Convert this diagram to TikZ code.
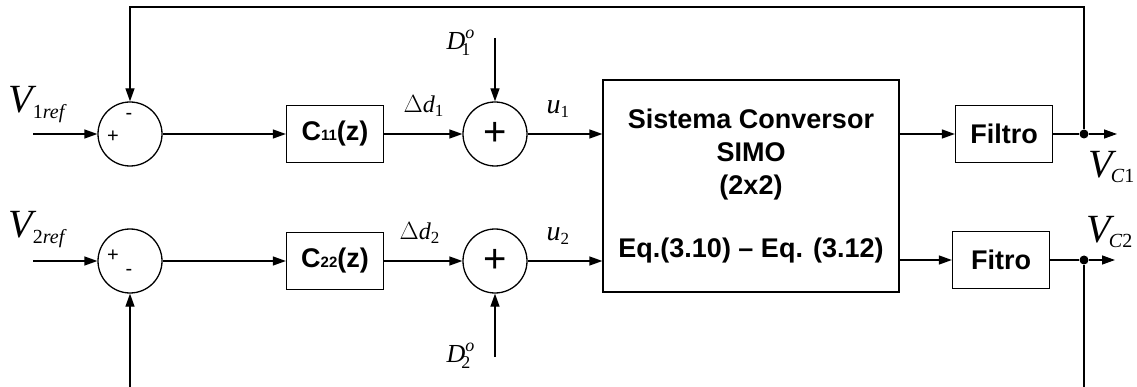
\documentclass[tikz,border=0pt]{standalone}
\usepackage{fontspec}
\setmainfont{Liberation Serif}
\setsansfont{Liberation Sans}
\usetikzlibrary{arrows.meta,positioning,calc}

\newcommand{\fs}[1]{\fontsize{#1}{#1}\selectfont}

\begin{document}
\begin{tikzpicture}[
    x=1pt, y=-1pt,
    line width=1.3pt,
    sum/.style={draw, circle, minimum size=64pt, inner sep=0pt},
    block/.style={draw, rectangle, minimum width=97pt, minimum height=57pt,
                  font=\sffamily\bfseries\fs{27}},
    lbl/.style={inner sep=0pt, font=\fs{26}},
    sgn/.style={inner sep=0pt, font=\sffamily\fs{20}},
    dot/.style={circle, fill, inner sep=0pt, minimum size=9pt},
    arrow/.style={-{Triangle[length=13pt,width=9pt]}}
  ]
    \clip (0,0) rectangle (1137,387);

    % summing junctions (error)
    \node[sum] (sumA) at (130,134) {};
    \node[sum] (sumB) at (130,261) {};
    \node[sgn] at (113,137) {+};
    \node[sgn] at (129,116) {-};
    \node[sgn] at (113,256) {+};
    \node[sgn] at (129,272) {-};

    % controllers
    \node[block] (ctrlA) at (335,134) {C{\fs{15}11}(z)};
    \node[block] (ctrlB) at (335,261) {C{\fs{15}22}(z)};

    % disturbance junctions
    \node[sum, font=\sffamily\fs{40}] (addA) at (495,134) {+};
    \node[sum, font=\sffamily\fs{40}] (addB) at (495,261) {+};

    % converter
    \node[draw, rectangle, minimum width=296pt, minimum height=212pt, align=center,
          font=\sffamily\bfseries\fs{27}] (plant) at (751,186)
          {Sistema Conversor\\[6pt]SIMO\\[6pt](2x2)\\[36pt]Eq.(3.10) -- Eq. (3.12)};

    % filters
    \node[block] (filtA) at (1004,134) {Filtro};
    \node[block] (filtB) at (1001,260) {Fitro};
    \node[dot] (outA) at (1084,134) {};
    \node[dot] (outB) at (1084,260) {};

    % free ends
    \coordinate (refA) at (33,134);
    \coordinate (refB) at (33,261);
    \coordinate (endA) at (1117,134);
    \coordinate (endB) at (1115,260);
    \coordinate (distA) at (495,38);
    \coordinate (distB) at (495,357);
    \coordinate (topR) at (1084,7);
    \coordinate (botR) at (1084,420);

    % labels
    \node[lbl, anchor=base west, font=\fs{40}] at (8,113) {\textit{V}\textsubscript{\kern-4pt\fs{20}1\textit{ref}}};
    \node[lbl, anchor=base west, font=\fs{40}] at (8,238) {\textit{V}\textsubscript{\kern-4pt\fs{20}2\textit{ref}}};
    \node[lbl, anchor=base west, font=\fs{40}] at (1088,178) {\textit{V}\textsubscript{\kern-6pt\fs{20}\textit{C}1}};
    \node[lbl, anchor=base west, font=\fs{40}] at (1086,243) {\textit{V}\textsubscript{\kern-6pt\fs{20}\textit{C}2}};
    \node[lbl, anchor=base west] at (446,50) {\textit{D}\rlap{\raisebox{11pt}{\fs{18}\textit{o}}}\raisebox{-6pt}{\kern-4pt\fs{18}1}};
    \node[lbl, anchor=base west] at (446,362) {\textit{D}\rlap{\raisebox{11pt}{\fs{18}\textit{o}}}\raisebox{-6pt}{\kern-4pt\fs{18}2}};
    \node[lbl, anchor=base west, font=\fs{24}] at (403,113) {$\Delta$\textit{d}\textsubscript{\fs{17}1}};
    \node[lbl, anchor=base west, font=\fs{24}] at (399,240) {$\Delta$\textit{d}\textsubscript{\fs{17}2}};
    \node[lbl, anchor=base west, font=\fs{28}] at (546,114) {\textit{u}\textsubscript{\fs{17}1}};
    \node[lbl, anchor=base west, font=\fs{28}] at (546,241) {\textit{u}\textsubscript{\fs{17}2}};

    % arrows
    \draw[arrow] (refA) -- (sumA.west);
    \draw[arrow] (refB) -- (sumB.west);
    \draw[arrow] (sumA.east) -- (ctrlA.west);
    \draw[arrow] (sumB.east) -- (ctrlB.west);
    \draw[arrow] (ctrlA.east) -- (addA.west);
    \draw[arrow] (ctrlB.east) -- (addB.west);
    \draw[arrow] (distA) -- (addA.north);
    \draw[arrow] (distB) -- (addB.south);
    \draw[arrow] (addA.east) -- (plant.west |- addA);
    \draw[arrow] (addB.east) -- (plant.west |- addB);
    \draw[arrow] (plant.east |- filtA) -- (filtA.west);
    \draw[arrow] (plant.east |- filtB) -- (filtB.west);
    \draw (filtA.east) -- (outA);
    \draw (filtB.east) -- (outB);
    \draw[arrow] (outA) -- (endA);
    \draw[arrow] (outB) -- (endB);
    \draw[arrow] (outA) -- (topR) -| (sumA.north);
    \draw[arrow] (outB) -- (botR) -| (sumB.south);
  \end{tikzpicture}
\end{document}
